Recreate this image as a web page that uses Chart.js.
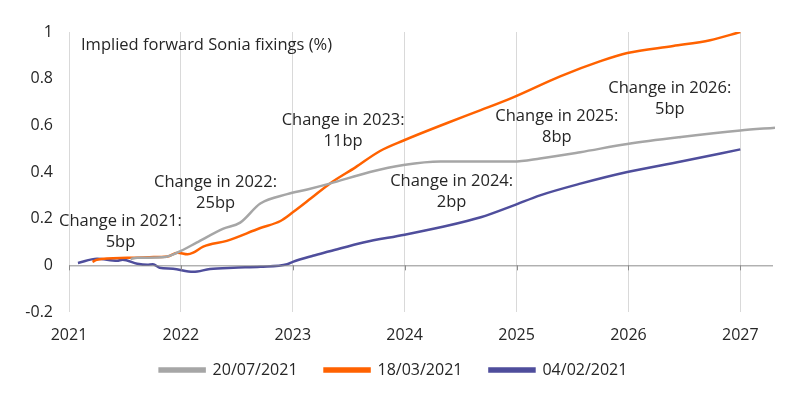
<!DOCTYPE html>
<html>
<head>
<meta charset="utf-8">
<script src="https://cdn.jsdelivr.net/npm/chart.js@4"></script>
<style>
  html, body { margin: 0; padding: 0; background: #fff; }
  #wrap { width: 800px; height: 397px; }
</style>
</head>
<body>
<div id="wrap"><canvas id="chart" width="800" height="397"></canvas></div>
<script>
// series: [year, value %]
const grey0720 = [
    [2021.55, 0.028], [2021.61, 0.032], [2021.86, 0.036], [2022.0, 0.062], [2022.14, 0.097],
    [2022.38, 0.157], [2022.53, 0.183], [2022.71, 0.265], [2022.95, 0.305], [2023.13, 0.325],
    [2023.33, 0.35], [2023.69, 0.40], [2023.99, 0.43], [2024.32, 0.445], [2024.97, 0.445],
    [2025.21, 0.458], [2025.57, 0.485], [2025.99, 0.52], [2026.47, 0.55], [2027.0, 0.578],
    [2027.31, 0.59]
];
const orange0318 = [
    [2021.21, 0.015], [2021.25, 0.024], [2021.52, 0.032], [2021.72, 0.035], [2021.88, 0.038],
    [2021.97, 0.054], [2022.06, 0.047], [2022.11, 0.054], [2022.2, 0.08], [2022.41, 0.105],
    [2022.71, 0.16], [2022.89, 0.19], [2023.0, 0.227], [2023.16, 0.286], [2023.33, 0.35],
    [2023.56, 0.42], [2023.78, 0.49], [2023.99, 0.535], [2024.38, 0.61], [2024.68, 0.665],
    [2024.97, 0.72], [2025.39, 0.81], [2025.75, 0.875], [2025.99, 0.91], [2026.4, 0.94],
    [2026.73, 0.965], [2027.0, 1.0]
];
const purple0204 = [
    [2021.08, 0.01], [2021.25, 0.028], [2021.43, 0.02], [2021.48, 0.024], [2021.61, 0.007],
    [2021.7, 0.002], [2021.75, 0.005], [2021.81, -0.01], [2021.93, -0.015], [2022.11, -0.028],
    [2022.26, -0.016], [2022.47, -0.01], [2022.71, -0.006], [2022.95, 0.005], [2023.0, 0.015],
    [2023.18, 0.041], [2023.33, 0.06], [2023.63, 0.098], [2024.0, 0.131], [2024.32, 0.163],
    [2024.68, 0.206], [2024.97, 0.256], [2025.21, 0.3], [2025.57, 0.35], [2025.99, 0.40],
    [2026.47, 0.445], [2027.0, 0.497]
];
const seriesNames = ['20/07/2021', '18/03/2021', '04/02/2021'];
const yearTicks = [2021, 2022, 2023, 2024, 2025, 2026, 2027];
const yTicks = [-0.2, 0, 0.2, 0.4, 0.6, 0.8, 1];

const noteTitles = ['Change in 2021:', 'Change in 2022:', 'Change in 2023:', 'Change in 2024:', 'Change in 2025:', 'Change in 2026:'];
const noteValues = ['5bp', '25bp', '11bp', '2bp', '8bp', '5bp'];
// where each note sits, in axis units
const noteAt = [[2021.46, 0.19], [2022.31, 0.355], [2023.45, 0.62], [2024.42, 0.36], [2025.36, 0.64], [2026.37, 0.76]];

const FONT = '"Open Sans", sans-serif';
const TXT = '#262626';

const toXY = arr => arr.map(p => ({ x: p[0], y: p[1] }));

const notesPlugin = {
    id: 'notes',
    afterLayout(chart) {
        // pull the legend row up a little, nudge it right
        const lg = chart.legend;
        lg.top -= 9; lg.bottom -= 9;
        lg.left += 6; lg.right += 6;
    },
    afterDatasetsDraw(chart) {
        const { ctx, scales: { x, y }, chartArea } = chart;
        ctx.save();
        ctx.fillStyle = TXT;
        ctx.font = '16.5px ' + FONT;
        ctx.textBaseline = 'middle';
        ctx.textAlign = 'left';
        ctx.fillText('Implied forward Sonia fixings (%)', chartArea.left + 12, chartArea.top + 13);
        ctx.textAlign = 'center';
        noteAt.forEach((p, i) => {
            const px = x.getPixelForValue(p[0]);
            const py = y.getPixelForValue(p[1]);
            ctx.fillText(noteTitles[i], px, py);
            ctx.fillText(noteValues[i], px, py + 21);
        });
        // zero line with small year ticks
        const y0 = y.getPixelForValue(0);
        ctx.strokeStyle = '#8c8c8c';
        ctx.lineWidth = 1;
        ctx.beginPath();
        ctx.moveTo(chartArea.left, y0 + 0.5);
        ctx.lineTo(chartArea.right - 2, y0 + 0.5);
        yearTicks.forEach(t => {
            const tx = Math.round(x.getPixelForValue(t)) + 0.5;
            ctx.moveTo(tx, y0);
            ctx.lineTo(tx, y0 + 5);
        });
        ctx.stroke();
        ctx.restore();
    }
};

new Chart(document.getElementById('chart'), {
    type: 'line',
    data: {
        datasets: [
            { label: seriesNames[0], data: toXY(grey0720), borderColor: '#a6a6a6', backgroundColor: '#a6a6a6' },
            { label: seriesNames[1], data: toXY(orange0318), borderColor: '#ff6200', backgroundColor: '#ff6200' },
            { label: seriesNames[2], data: toXY(purple0204), borderColor: '#4f4e9c', backgroundColor: '#4f4e9c' }
        ]
    },
    options: {
        responsive: false,
        animation: false,
        events: [],
        elements: {
            point: { radius: 0 },
            line: { borderWidth: 2.5, cubicInterpolationMode: 'monotone' }
        },
        layout: { padding: { top: 32, right: 25, left: 0, bottom: 0 } },
        scales: {
            x: {
                type: 'linear',
                min: 2021,
                max: 2027.31,
                afterBuildTicks: s => { s.ticks = yearTicks.map(v => ({ value: v })); },
                ticks: { color: TXT, font: { size: 16, family: FONT }, padding: 14, maxRotation: 0,
                    callback: v => String(v) },
                grid: { color: '#d9d9d9', lineWidth: 1, drawTicks: false },
                border: { display: false },
                afterFit: s => { s.height = 32; }
            },
            y: {
                min: -0.2,
                max: 1,
                afterBuildTicks: s => { s.ticks = yTicks.map(v => ({ value: v })); },
                ticks: { color: TXT, font: { size: 16, family: FONT }, padding: 16,
                    callback: v => String(Math.round(v * 10) / 10) },
                grid: { display: false, drawTicks: false },
                border: { display: false },
                afterFit: s => { s.width = 69; }
            }
        },
        plugins: {
            legend: {
                position: 'bottom',
                labels: { boxWidth: 45, boxHeight: 3, color: TXT, font: { size: 16, family: FONT }, padding: 27 }
            },
            tooltip: { enabled: false }
        }
    },
    plugins: [notesPlugin]
});
</script>
</body>
</html>
